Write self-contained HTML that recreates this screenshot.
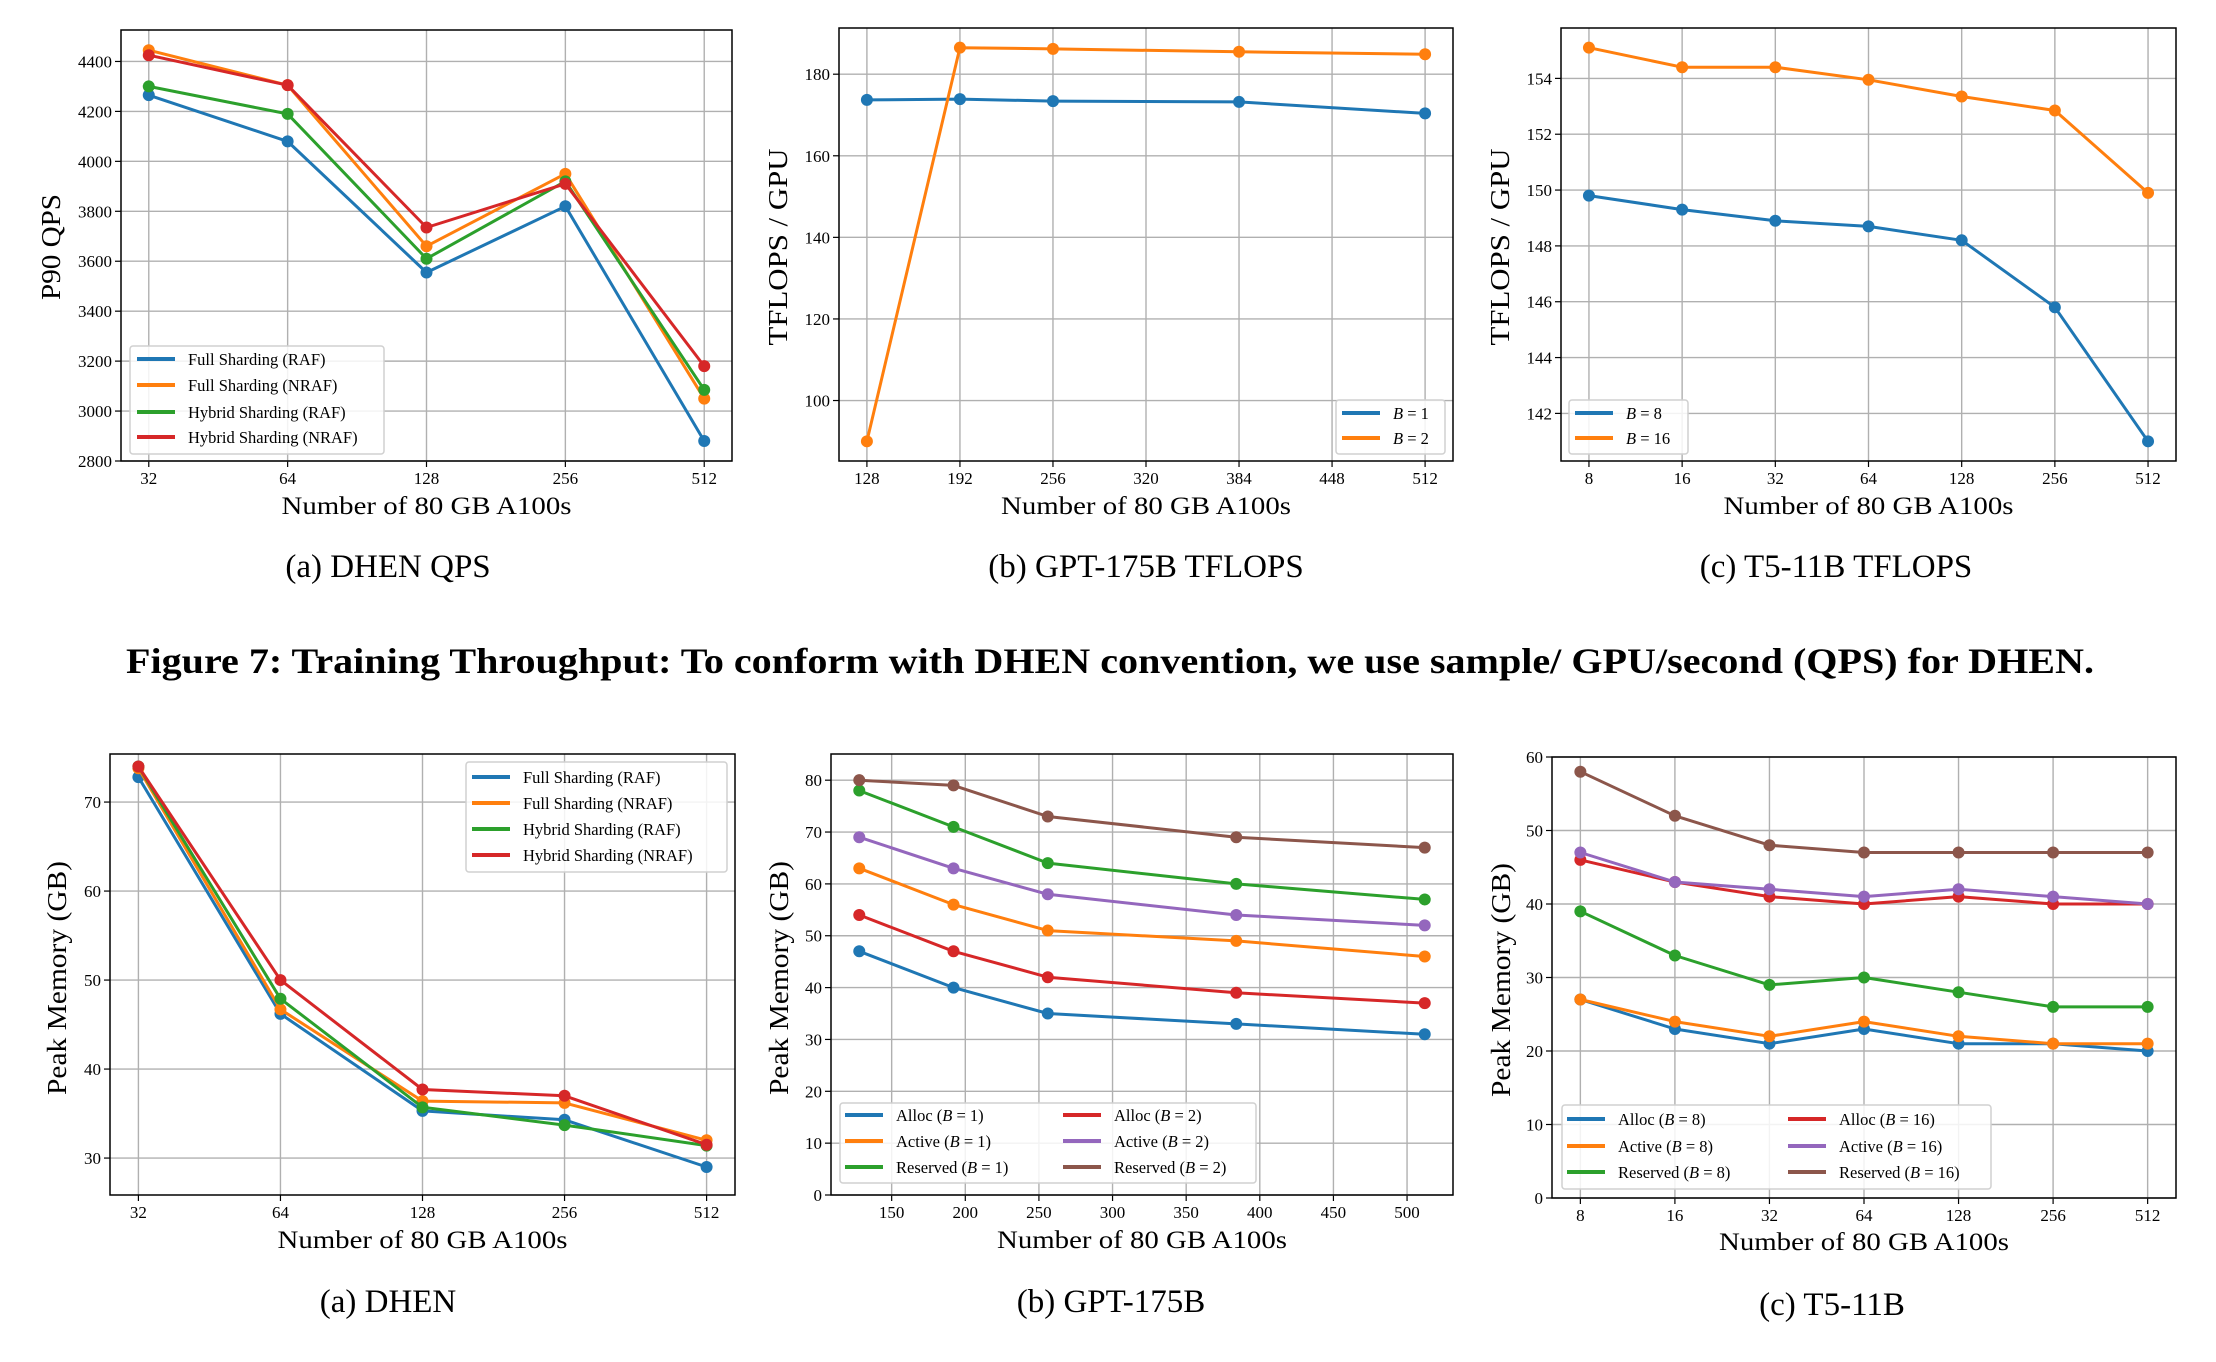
<!DOCTYPE html>
<html><head><meta charset="utf-8">
<style>
html,body{margin:0;padding:0;background:#fff;}
svg{display:block;font-family:"Liberation Serif","DejaVu Serif",serif;}
</style></head>
<body>
<svg id="fig" width="2216" height="1362" viewBox="0 0 2216 1362" xmlns="http://www.w3.org/2000/svg">
<text x="126" y="673" font-size="36" font-weight="bold" textLength="1968" lengthAdjust="spacingAndGlyphs">Figure 7: Training Throughput: To conform with DHEN convention, we use sample/ GPU/second (QPS) for DHEN.</text>
</svg>
<script>
// ---- Data ----
const qpsCats = ["32","64","128","256","512"];
const qpsFullRAF = [4265, 4080, 3555, 3820, 2880];
const qpsFullNRAF = [4445, 4305, 3660, 3950, 3050];
const qpsHybridRAF = [4300, 4190, 3610, 3920, 3085];
const qpsHybridNRAF = [4425, 4305, 3735, 3910, 3180];
const qpsTicks = [2800,3000,3200,3400,3600,3800,4000,4200,4400];

const gptX = [128, 192, 256, 384, 512];
const gptB1 = [173.7, 173.9, 173.4, 173.2, 170.4];
const gptB2 = [90, 186.5, 186.2, 185.5, 184.9];
const gptYTicks = [100,120,140,160,180];
const gptXTicks = [128,192,256,320,384,448,512];

const t5Cats = ["8","16","32","64","128","256","512"];
const t5B8 = [149.8, 149.3, 148.9, 148.7, 148.2, 145.8, 141.0];
const t5B16 = [155.1, 154.4, 154.4, 153.95, 153.35, 152.85, 149.9];
const t5YTicks = [142,144,146,148,150,152,154];

const memFullRAF = [72.8, 46.2, 35.3, 34.3, 29.0];
const memFullNRAF = [73.8, 46.7, 36.4, 36.2, 32.0];
const memHybridRAF = [74.0, 47.9, 35.7, 33.7, 31.4];
const memHybridNRAF = [74.0, 50.0, 37.7, 37.0, 31.5];
const memDhenTicks = [30,40,50,60,70];

const gptMemAlloc1 = [47, 40, 35, 33, 31];
const gptMemActive1 = [63, 56, 51, 49, 46];
const gptMemReserved1 = [78, 71, 64, 60, 57];
const gptMemAlloc2 = [54, 47, 42, 39, 37];
const gptMemActive2 = [69, 63, 58, 54, 52];
const gptMemReserved2 = [80, 79, 73, 69, 67];
const gptMemYTicks = [0,10,20,30,40,50,60,70,80];
const gptMemXTicks = [150,200,250,300,350,400,450,500];

const t5MemAlloc8 = [27, 23, 21, 23, 21, 21, 20];
const t5MemActive8 = [27, 24, 22, 24, 22, 21, 21];
const t5MemReserved8 = [39, 33, 29, 30, 28, 26, 26];
const t5MemAlloc16 = [46, 43, 41, 40, 41, 40, 40];
const t5MemActive16 = [47, 43, 42, 41, 42, 41, 40];
const t5MemReserved16 = [58, 52, 48, 47, 47, 47, 47];
const t5MemYTicks = [0,10,20,30,40,50,60];

const C = {blue:"#1f77b4",orange:"#ff7f0e",green:"#2ca02c",red:"#d62728",purple:"#9467bd",brown:"#8c564b"};
const NS = "http://www.w3.org/2000/svg";
const svg = document.getElementById('fig');
function mk(tag, attrs, parent){const e=document.createElementNS(NS,tag);for(const k in attrs)e.setAttribute(k,attrs[k]);(parent||svg).appendChild(e);return e;}
function pad(vals){let mn=Math.min(...vals),mx=Math.max(...vals),r=mx-mn||1;return [mn-0.05*r,mx+0.05*r];}

function chart(o){
  const g=mk('g',{});
  
  
  const {x0,x1,y0,y1}=o.box;
  const all=[].concat(...o.series.map(s=>s.values));
  const yd=o.ydom||pad(all);
  let xd;
  if(o.cats){xd=[-0.05*(o.cats.length-1),(o.cats.length-1)*1.05];}
  else xd=pad(o.xvals);
  const sx=v=>x0+(v-xd[0])/(xd[1]-xd[0])*(x1-x0);
  const sy=v=>y1-(v-yd[0])/(yd[1]-yd[0])*(y1-y0);
  const xpos=i=>o.cats?sx(i):sx(o.xvals[i]);
  const xt=o.cats?o.cats.map((c,i)=>({v:i,l:c})):o.xticks.map(t=>({v:t,l:String(t)}));
  xt.forEach(t=>{const X=sx(t.v);
    const gl=mk('line',{x1:X,x2:X,y1:y0,y2:y1,stroke:"#b0b0b0","stroke-width":1.4},g);
    
    
    mk('line',{x1:X,x2:X,y1:y1,y2:y1+6,stroke:"#000","stroke-width":1.2},g);
    const tl=mk('text',{x:X,y:y1+23,"font-size":17,"text-anchor":"middle"},g);tl.textContent=t.l;
    
    
  });
  o.yticks.forEach(t=>{const Y=sy(t);
    const gl=mk('line',{x1:x0,x2:x1,y1:Y,y2:Y,stroke:"#b0b0b0","stroke-width":1.4},g);
    
    
    mk('line',{x1:x0-6,x2:x0,y1:Y,y2:Y,stroke:"#000","stroke-width":1.2},g);
    const tl=mk('text',{x:x0-9,y:Y+6,"font-size":17,"text-anchor":"end"},g);tl.textContent=String(t);
    
    
  });
  o.series.forEach(s=>{
    const pts=s.values.map((v,i)=>xpos(i).toFixed(1)+","+sy(v).toFixed(1)).join(" ");
    const pl=mk('polyline',{points:pts,fill:"none",stroke:s.color,"stroke-width":3,"stroke-linejoin":"round"},g);
    
    
    s.values.forEach((v,i)=>{const c=mk('circle',{cx:xpos(i),cy:sy(v),r:6,fill:s.color},g);
      
      });
  });
  const fr=mk('rect',{x:x0,y:y0,width:x1-x0,height:y1-y0,fill:"none",stroke:"#000","stroke-width":1.5},g);
  
  
  const xtl=mk('text',{x:(x0+x1)/2,y:o.xtitleY,"font-size":25,"text-anchor":"middle",textLength:290,lengthAdjust:"spacingAndGlyphs"},g);
  xtl.textContent="Number of 80 GB A100s";
  
  
  const ytl=mk('text',{x:0,y:0,"font-size":27,"text-anchor":"middle",transform:`translate(${o.ytitle.x},${o.ytitle.y}) rotate(-90)`,textLength:o.ytitle.len,lengthAdjust:"spacingAndGlyphs"},g);
  ytl.textContent=o.ytitle.t;
  
  
  const cap=mk('text',{x:o.cap.x,y:o.cap.y,"font-size":33,"text-anchor":"middle"},g);
  cap.textContent=o.cap.t;
  
  
  const L=o.leg;
  const lg=mk('g',{},g);
  
  
  mk('rect',{x:L.x,y:L.y,width:L.w,height:L.h,rx:3,fill:"#fff","fill-opacity":0.85,stroke:"#d0d0d0","stroke-width":1.5},lg);
  o.series.forEach((s,i)=>{
    const col=L.cols?Math.floor(i/L.rows):0, row=L.cols?i%L.rows:i;
    const lx=L.lx[col], ly=L.ly[row];
    const e=mk('g',{},lg);
    
    
    mk('line',{x1:lx,x2:lx+38,y1:ly,y2:ly,stroke:s.color,"stroke-width":4},e);
    const t=mk('text',{x:lx+51,y:ly+6,"font-size":16.5},e);
    t.innerHTML=s.label;
  });
}
const Bi='<tspan font-style="italic">B</tspan>';

chart({name:"dhen-qps-chart",box:{x0:121,x1:732,y0:30,y1:461},cats:qpsCats,ydom:[2800,4526],yticks:qpsTicks,
 series:[{id:"full-raf",values:qpsFullRAF,color:C.blue,label:"Full Sharding (RAF)"},
  {id:"full-nraf",values:qpsFullNRAF,color:C.orange,label:"Full Sharding (NRAF)"},
  {id:"hybrid-raf",values:qpsHybridRAF,color:C.green,label:"Hybrid Sharding (RAF)"},
  {id:"hybrid-nraf",values:qpsHybridNRAF,color:C.red,label:"Hybrid Sharding (NRAF)"}],
 xtitleY:514,ytitle:{x:60,y:247,t:"P90 QPS",len:106},cap:{x:388,y:577,t:"(a) DHEN QPS"},
 leg:{x:130,y:346,w:254,h:108,lx:[137],ly:[359,385,412,437]}});

chart({name:"gpt-tflops-chart",box:{x0:839,x1:1453,y0:28,y1:461},xvals:gptX,xticks:gptXTicks,yticks:gptYTicks,
 series:[{id:"b1",values:gptB1,color:C.blue,label:Bi+" = 1"},{id:"b2",values:gptB2,color:C.orange,label:Bi+" = 2"}],
 xtitleY:514,ytitle:{x:787,y:247,t:"TFLOPS / GPU",len:197},cap:{x:1146,y:577,t:"(b) GPT-175B TFLOPS"},
 leg:{x:1336,y:400,w:109,h:54,lx:[1342],ly:[413,438]}});

chart({name:"t5-tflops-chart",box:{x0:1561,x1:2176,y0:28,y1:461},cats:t5Cats,yticks:t5YTicks,
 series:[{id:"b8",values:t5B8,color:C.blue,label:Bi+" = 8"},{id:"b16",values:t5B16,color:C.orange,label:Bi+" = 16"}],
 xtitleY:514,ytitle:{x:1509,y:247,t:"TFLOPS / GPU",len:197},cap:{x:1836,y:577,t:"(c) T5-11B TFLOPS"},
 leg:{x:1569,y:400,w:119,h:54,lx:[1575],ly:[413,438]}});

chart({name:"dhen-memory-chart",box:{x0:110,x1:735,y0:754,y1:1195},cats:qpsCats,ydom:[25.85,75.4],yticks:memDhenTicks,
 series:[{id:"full-raf",values:memFullRAF,color:C.blue,label:"Full Sharding (RAF)"},
  {id:"full-nraf",values:memFullNRAF,color:C.orange,label:"Full Sharding (NRAF)"},
  {id:"hybrid-raf",values:memHybridRAF,color:C.green,label:"Hybrid Sharding (RAF)"},
  {id:"hybrid-nraf",values:memHybridNRAF,color:C.red,label:"Hybrid Sharding (NRAF)"}],
 xtitleY:1248,ytitle:{x:66,y:978,t:"Peak Memory (GB)",len:234},cap:{x:388,y:1312,t:"(a) DHEN"},
 leg:{x:466,y:762,w:261,h:110,lx:[472],ly:[777,803,829,855]}});

chart({name:"gpt-memory-chart",box:{x0:831,x1:1453,y0:754,y1:1195},xvals:gptX,xticks:gptMemXTicks,ydom:[0,85.05],yticks:gptMemYTicks,
 series:[{id:"alloc-b1",values:gptMemAlloc1,color:C.blue,label:"Alloc ("+Bi+" = 1)"},
  {id:"active-b1",values:gptMemActive1,color:C.orange,label:"Active ("+Bi+" = 1)"},
  {id:"reserved-b1",values:gptMemReserved1,color:C.green,label:"Reserved ("+Bi+" = 1)"},
  {id:"alloc-b2",values:gptMemAlloc2,color:C.red,label:"Alloc ("+Bi+" = 2)"},
  {id:"active-b2",values:gptMemActive2,color:C.purple,label:"Active ("+Bi+" = 2)"},
  {id:"reserved-b2",values:gptMemReserved2,color:C.brown,label:"Reserved ("+Bi+" = 2)"}],
 xtitleY:1248,ytitle:{x:788,y:978,t:"Peak Memory (GB)",len:234},cap:{x:1111,y:1312,t:"(b) GPT-175B"},
 leg:{x:840,y:1103,w:416,h:80,cols:2,rows:3,lx:[845,1063],ly:[1115,1141,1167]}});

chart({name:"t5-memory-chart",box:{x0:1552,x1:2176,y0:757,y1:1198},cats:t5Cats,ydom:[0,60],yticks:t5MemYTicks,
 series:[{id:"alloc-b8",values:t5MemAlloc8,color:C.blue,label:"Alloc ("+Bi+" = 8)"},
  {id:"active-b8",values:t5MemActive8,color:C.orange,label:"Active ("+Bi+" = 8)"},
  {id:"reserved-b8",values:t5MemReserved8,color:C.green,label:"Reserved ("+Bi+" = 8)"},
  {id:"alloc-b16",values:t5MemAlloc16,color:C.red,label:"Alloc ("+Bi+" = 16)"},
  {id:"active-b16",values:t5MemActive16,color:C.purple,label:"Active ("+Bi+" = 16)"},
  {id:"reserved-b16",values:t5MemReserved16,color:C.brown,label:"Reserved ("+Bi+" = 16)"}],
 xtitleY:1250,ytitle:{x:1510,y:980,t:"Peak Memory (GB)",len:234},cap:{x:1832,y:1315,t:"(c) T5-11B"},
 leg:{x:1562,y:1105,w:429,h:84,cols:2,rows:3,lx:[1567,1788],ly:[1119,1146,1172]}});
</script>
</body></html>
